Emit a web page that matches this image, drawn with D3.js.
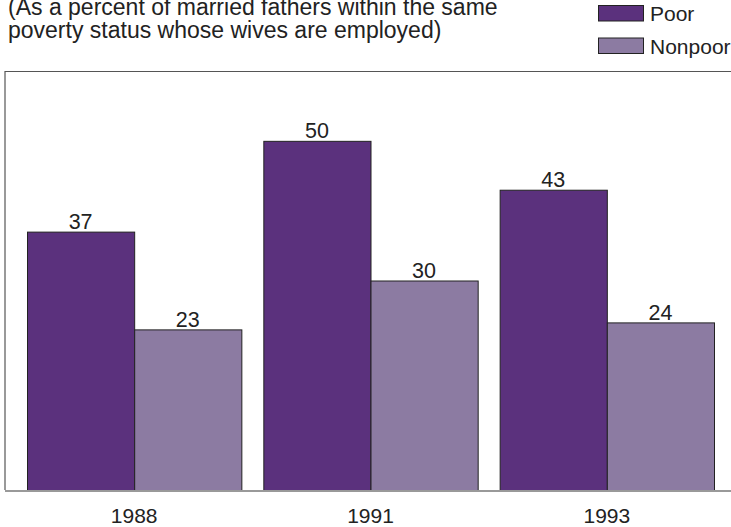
<!DOCTYPE html>
<html>
<head>
<meta charset="utf-8">
<script src="https://cdn.jsdelivr.net/npm/d3@7"></script>
<style>
  body { margin: 0; background: #fff; }
  svg { display: block; }
  text { font-family: "Liberation Sans", Arial, sans-serif; fill: #222; }
</style>
</head>
<body>
<div id="chart"></div>
<script>
const years = ["1988", "1991", "1993"];
const seriesNames = ["Poor", "Nonpoor"];
const poorValues = [37, 50, 43];
const nonpoorValues = [23, 30, 24];
const titleLines = [
    "(As a percent of married fathers within the same",
    "poverty status whose wives are employed)"
];

const colors = { Poor: "#5b317d", Nonpoor: "#8c7ba2" };

const W = 731, H = 527;
const plot = { left: 5, top: 71, right: 731, bottom: 490 };

const svg = d3.select("#chart").append("svg")
    .attr("width", W)
    .attr("height", H);

// title (top line partly cut off in the original)
svg.selectAll(".title-line")
    .data(titleLines)
    .enter().append("text")
    .attr("class", "title-line")
    .attr("x", 8)
    .attr("y", (d, i) => 15 + i * 23)
    .style("font-size", "23px")
    .text(d => d);

// legend
const legend = svg.append("g").attr("class", "legend");
seriesNames.forEach((name, i) => {
    legend.append("rect")
        .attr("x", 598.5)
        .attr("y", 5.5 + i * 32.5)
        .attr("width", 45)
        .attr("height", 15.5)
        .attr("fill", colors[name])
        .attr("stroke", "#222")
        .attr("stroke-width", 1);
    legend.append("text")
        .attr("x", 650)
        .attr("y", 21 + i * 32.5)
        .style("font-size", "21px")
        .text(name);
});

const x = d3.scaleBand()
    .domain(years)
    .range([27, 714])
    .paddingInner(0.093)
    .paddingOuter(0);

const xSub = d3.scaleBand()
    .domain(seriesNames)
    .range([0, x.bandwidth()]);

const y = d3.scaleLinear()
    .domain([0, 60])
    .range([plot.bottom, plot.top]);

// frame
svg.append("line")
    .attr("x1", plot.left).attr("x2", plot.right)
    .attr("y1", plot.top + 0.5).attr("y2", plot.top + 0.5)
    .attr("stroke", "#555").attr("stroke-width", 1.2);
svg.append("line")
    .attr("x1", plot.left).attr("x2", plot.left)
    .attr("y1", plot.top).attr("y2", plot.bottom)
    .attr("stroke", "#555").attr("stroke-width", 1.2);

const rows = years.map((yr, i) => ({
    year: yr,
    values: [
        { name: "Poor", value: poorValues[i] },
        { name: "Nonpoor", value: nonpoorValues[i] }
    ]
}));

const groups = svg.selectAll(".group")
    .data(rows)
    .enter().append("g")
    .attr("class", "group")
    .attr("transform", d => `translate(${x(d.year)},0)`);

groups.selectAll("rect")
    .data(d => d.values)
    .enter().append("rect")
    .attr("x", d => xSub(d.name) + 0.5)
    .attr("y", d => y(d.value) + 0.5)
    .attr("width", xSub.bandwidth())
    .attr("height", d => y(0) - y(d.value))
    .attr("fill", d => colors[d.name])
    .attr("stroke", "#222")
    .attr("stroke-width", 1);

groups.selectAll(".val")
    .data(d => d.values)
    .enter().append("text")
    .attr("class", "val")
    .attr("x", d => xSub(d.name) + xSub.bandwidth() / 2)
    .attr("y", d => y(d.value) - 2.5)
    .attr("text-anchor", "middle")
    .style("font-size", "21.5px")
    .text(d => d.value);

// x axis
const xAxis = svg.append("g")
    .attr("class", "x-axis")
    .attr("transform", `translate(0,${plot.bottom})`)
    .call(d3.axisBottom(x).tickSize(0).tickPadding(0));
xAxis.select(".domain").remove();
xAxis.selectAll("text")
    .attr("y", 33)
    .attr("dy", null)
    .style("font-size", "21px")
    .style("font-family", "'Liberation Sans', Arial, sans-serif")
    .attr("fill", "#222");

svg.append("line")
    .attr("x1", plot.left).attr("x2", plot.right)
    .attr("y1", plot.bottom + 1).attr("y2", plot.bottom + 1)
    .attr("stroke", "#999").attr("stroke-width", 2);
</script>
</body>
</html>
